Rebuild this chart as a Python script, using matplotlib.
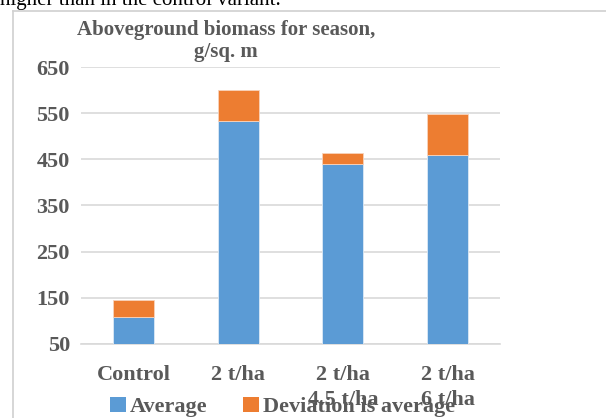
import matplotlib
matplotlib.use("Agg")
import matplotlib.pyplot as plt
from matplotlib.lines import Line2D
from matplotlib.patches import Patch

categories = ["Control", "2 t/ha", "2 t/ha\n4.5 t/ha", "2 t/ha\n6 t/ha"]
average = [108, 534, 440, 459]
deviation = [37, 67, 24, 89]
yticks = [50, 150, 250, 350, 450, 550, 650]
title = "Aboveground biomass for season,\ng/sq. m"
series_names = ["Average", "Deviation is average"]

W, H = 606, 418
fig = plt.figure(figsize=(W / 100, H / 100), dpi=100)
plt.rcParams['font.family'] = ['Liberation Serif', 'DejaVu Serif']
gray = "#595959"
blue = "#5B9BD5"
orange = "#ED7D31"

# frame of the embedded chart
fig.add_artist(Line2D([12.5 / W, 12.5 / W], [0, 1 - 10.5 / H], transform=fig.transFigure,
                      color="#D0D0D0", lw=1.2))
fig.add_artist(Line2D([12.5 / W, 1], [1 - 10.5 / H, 1 - 10.5 / H], transform=fig.transFigure,
                      color="#D0D0D0", lw=1.2))

# cut-off document text above
fig.text(0 / W, 1 - 5 / H, "higher than in the control variant.", ha="left", va="baseline",
         fontsize=15, color="black", family=['Liberation Serif'])

ax = fig.add_axes([81 / W, (H - 343.7) / H, (500 - 81) / W, (343.7 - 67.2) / H])
x = list(range(len(categories)))
ax.bar(x, average, width=0.39, color=blue, edgecolor="#DCE9F5",
       linewidth=0.6, zorder=3)
ax.bar(x, deviation, width=0.39, bottom=average, color=orange, edgecolor="#F8D3BC",
       linewidth=0.6, zorder=3)
ax.set_ylim(50, 650)
ax.set_xlim(-0.5, len(categories) - 0.5)
ax.set_yticks(yticks)
ax.yaxis.grid(True, color="#D9D9D9", linewidth=1.2, zorder=0)
ax.set_axisbelow(True)
for s in ["top", "right", "left"]:
    ax.spines[s].set_visible(False)
ax.spines["bottom"].set_color("#D9D9D9")
ax.spines["bottom"].set_linewidth(1.2)
ax.tick_params(axis="both", length=0, labelsize=16, labelcolor=gray)
ax.tick_params(axis="y", pad=8)
ax.tick_params(axis="x", pad=15)
ax.set_xticks(x)
ax.set_xticklabels(categories, fontweight="bold", linespacing=1.35)
for lab in ax.get_yticklabels():
    lab.set_fontweight("bold")

fig.text(226 / W, 1 - 41 / H, title, ha="center", va="center", fontsize=15,
         fontweight="bold", color=gray, linespacing=1.15)

handles = [Patch(facecolor=blue), Patch(facecolor=orange)]
leg = fig.legend(handles, series_names, loc="center left", bbox_to_anchor=(110 / W, 1 - 407 / H),
                 ncol=2, frameon=False, fontsize=16, handlelength=0.7, handleheight=0.7,
                 handletextpad=0.2, columnspacing=1.6, borderaxespad=0, borderpad=0)
for t in leg.get_texts():
    t.set_color(gray)
    t.set_fontweight("bold")

fig.savefig("out.png", dpi=100, facecolor="white")
